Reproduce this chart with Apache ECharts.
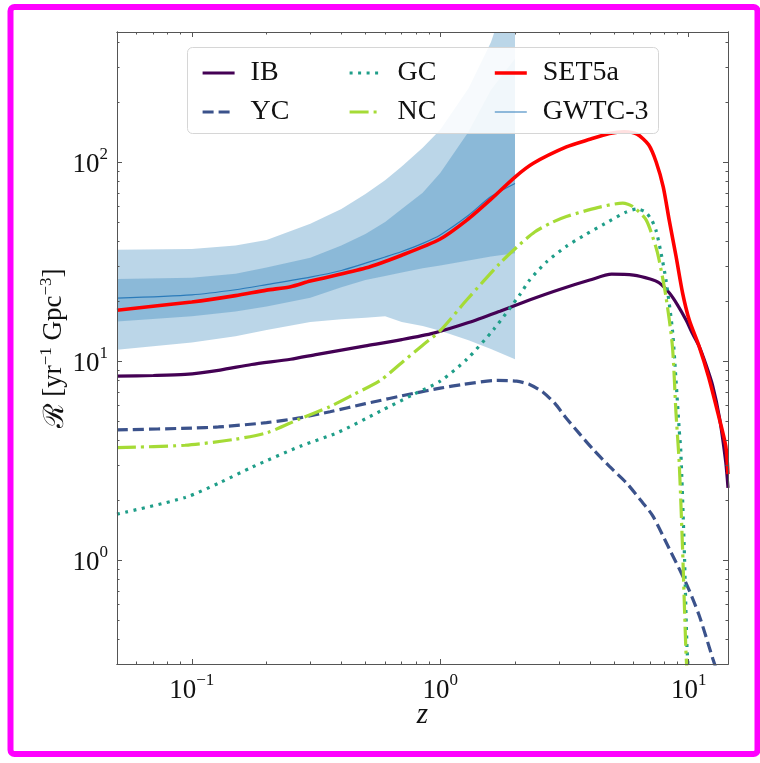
<!DOCTYPE html>
<html><head><meta charset="utf-8">
<script src="https://cdn.jsdelivr.net/npm/echarts@6/dist/echarts.min.js"></script>
<style>html,body{margin:0;padding:0;background:#fff}#c{width:760px;height:763px}</style>
</head><body><div id="c"></div>
<script>
// ---------------- data ----------------
const xMajorTicks = [0.1, 1, 10];
const xMinorTicks = [0.06, 0.07, 0.08, 0.09, 0.2, 0.3, 0.4, 0.5, 0.6, 0.7, 0.8, 0.9, 2, 3, 4, 5, 6, 7, 8, 9];
const yMajorTicks = [1, 10, 100];
const yMinorTicks = [0.3, 0.4, 0.5, 0.6, 0.7, 0.8, 0.9, 2, 3, 4, 5, 6, 7, 8, 9, 20, 30, 40, 50, 60, 70, 80, 90, 200, 300, 400];

const ibZ = [0.05, 0.07, 0.094, 0.13, 0.174, 0.25, 0.32, 0.5, 0.7, 0.94, 1.3, 1.74, 2.3, 3.0, 4.0, 4.9, 6.0, 7.0, 7.6, 8.35, 9.0, 9.75, 10.4, 11.0, 11.7, 12.5, 13.3, 14.1, 14.4];
const ibR = [8.4, 8.45, 8.56, 9.0, 9.6, 10.2, 10.8, 11.9, 12.8, 13.8, 15.6, 17.8, 20.3, 22.8, 25.5, 27.3, 27.0, 25.8, 24.7, 22.0, 19.2, 16.1, 13.6, 11.9, 9.7, 7.5, 5.2, 3.1, 2.3];

const ycZ = [0.05, 0.1, 0.128, 0.2, 0.275, 0.36, 0.5, 0.78, 1.0, 1.24, 1.69, 2.03, 2.3, 2.6, 2.9, 3.2, 3.64, 4.12, 4.8, 5.6, 6.4, 7.16, 8.35, 9.74, 11.0, 12.5, 13.2];
const ycR = [4.5, 4.6, 4.66, 4.9, 5.19, 5.56, 6.1, 6.87, 7.3, 7.63, 7.98, 7.92, 7.6, 6.95, 6.1, 5.2, 4.3, 3.6, 2.95, 2.45, 2.0, 1.67, 1.14, 0.77, 0.53, 0.32, 0.26];

const gcZ = [0.05, 0.094, 0.13, 0.174, 0.275, 0.387, 0.575, 0.78, 1.0, 1.28, 1.64, 2.09, 2.29, 2.68, 3.2, 3.76, 4.6, 5.6, 6.2, 6.7, 7.1, 7.4, 7.74, 8.1, 8.6, 8.89, 9.16, 9.3, 9.6, 9.85, 10.0];
const gcR = [1.7, 2.06, 2.45, 2.92, 3.74, 4.37, 5.6, 6.79, 7.92, 10.2, 14.4, 21.5, 25.5, 31.5, 37.5, 42.5, 49.0, 56.0, 58.0, 56.0, 51.0, 45.0, 34.9, 25.6, 14.4, 8.08, 4.54, 3.5, 1.14, 0.36, 0.27];

const ncZ = [0.05, 0.094, 0.149, 0.202, 0.27, 0.36, 0.45, 0.575, 0.7, 0.85, 1.0, 1.28, 1.74, 2.09, 2.4, 2.8, 3.22, 4.3, 5.43, 5.95, 6.74, 7.37, 7.6, 8.1, 8.6, 8.89, 9.16, 9.45, 9.74, 9.85];
const ncR = [3.67, 3.77, 4.04, 4.37, 5.1, 5.9, 6.8, 8.0, 9.8, 12.0, 14.2, 20.3, 31.0, 38.5, 44.5, 49.5, 53.2, 59.0, 62.1, 59.7, 51.2, 37.6, 32.3, 21.1, 11.9, 5.5, 3.09, 1.14, 0.36, 0.27];

const setZ = [0.05, 0.1, 0.15, 0.2, 0.25, 0.3, 0.5, 0.7, 1.0, 1.28, 1.59, 2.0, 2.37, 3.22, 4.0, 4.8, 5.5, 6.2, 6.9, 7.4, 7.9, 8.35, 8.9, 9.45, 10.05, 11.0, 12.0, 13.1, 14.1, 14.4];
const setR = [18.0, 19.8, 21.3, 22.7, 23.6, 25.2, 29.3, 34.0, 41.0, 51.0, 64.5, 84.0, 98.5, 119, 130, 139, 142, 138, 122, 100, 75, 51, 33.5, 22.0, 16.1, 11.9, 8.4, 5.5, 3.74, 2.7];

const bandZ = [0.05, 0.1, 0.15, 0.2, 0.3, 0.4, 0.5, 0.6, 0.7, 0.85, 1.0, 1.3, 1.6, 2.0];
const gwtcMedian = [20.7, 21.5, 22.8, 24.2, 26.4, 28.5, 31.0, 33.3, 35.5, 39.0, 43.0, 54.0, 67.0, 78.0];
const gwtc50Low = [15.8, 16.8, 17.7, 18.8, 20.8, 23.5, 25.5, 26.7, 27.8, 29.2, 30.2, 32.0, 33.5, 34.8];
const gwtc50High = [25.8, 26.2, 27.4, 29.5, 33.0, 38.0, 43.5, 50.0, 58.0, 70.0, 88.0, 142, 230, 330];
const gwtc90Low = [11.4, 12.4, 13.3, 14.3, 15.7, 16.2, 16.5, 16.8, 15.7, 15.0, 14.2, 12.7, 11.5, 10.2];
const gwtc90High = [36.2, 36.5, 38.0, 40.5, 49.0, 58.0, 69.0, 81.0, 95.0, 118, 145, 235, 400, 900];

// ---------------- chart ----------------
const FONT = '"Liberation Serif", "DejaVu Serif", serif';
const AX = '#555';
const xMin = 0.05, xMax = 14.4, yMin = 0.3, yMax = 450;

const pairs = (xs, ys) => xs.map((v, i) => [v, ys[i]]);

const supRich = {
  b: { fontSize: 27, fontFamily: FONT, color: '#111', lineHeight: 32, verticalAlign: 'bottom' },
  s: { fontSize: 17, fontFamily: FONT, color: '#111', lineHeight: 18, verticalAlign: 'top' }
};
function powLabel(v) {
  const e = Math.round(Math.log10(v));
  return '{b|10}{s|' + (e < 0 ? '\u2212' + (-e) : e) + '}';
}

function mkAxis(kind, pos, ticks, len, withLabels, extra) {
  const isX = kind === 'x';
  const ax = {
    type: 'log', logBase: 10,
    min: isX ? xMin : yMin, max: isX ? xMax : yMax,
    position: pos, z: 6,
    axisLine: { show: true, onZero: false, lineStyle: { color: AX, width: 1 } },
    axisTick: { show: true, inside: true, length: len, customValues: ticks, lineStyle: { color: AX, width: 1 } },
    axisLabel: withLabels ? {
      show: true, customValues: ticks, margin: isX ? 8 : 9,
      formatter: powLabel, rich: supRich
    } : { show: false },
    splitLine: { show: false }, minorTick: { show: false }, minorSplitLine: { show: false }
  };
  return Object.assign(ax, extra || {});
}

function band(lo, hi) {
  return {
    type: 'custom', coordinateSystem: 'cartesian2d', xAxisIndex: 0, yAxisIndex: 0,
    clip: true, silent: true, z: 1,
    data: [[1, 10]], encode: { x: 0, y: 1 },
    renderItem: function (params, api) {
      const pts = [];
      for (let i = 0; i < bandZ.length; i++) pts.push(api.coord([bandZ[i], hi[i]]));
      for (let i = bandZ.length - 1; i >= 0; i--) pts.push(api.coord([bandZ[i], lo[i]]));
      return { type: 'polygon', shape: { points: pts }, style: { fill: 'rgba(31,119,180,0.3)' } };
    }
  };
}

function line(name, xs, ys, color, width, dash, z) {
  return {
    type: 'line', name: name, xAxisIndex: 0, yAxisIndex: 0,
    data: pairs(xs, ys), symbol: 'none', showSymbol: false, smooth: 0.25, clip: true,
    z: z || 2, silent: true,
    lineStyle: { color: color, width: width, type: dash || 'solid', cap: 'butt' },
    itemStyle: { color: color }
  };
}

const legendCommon = {
  orient: 'vertical', top: 53, itemWidth: 32, itemHeight: 12, itemGap: 9,
  selectedMode: false, z: 8,
  lineStyle: { width: 'inherit' },
  itemStyle: { color: 'rgba(0,0,0,0)', borderColor: 'rgba(0,0,0,0)', borderWidth: 0, opacity: 0 },
  textStyle: { fontSize: 28, fontFamily: FONT, color: '#111', lineHeight: 30, padding: [0, 0, 0, 11] }
};

const chart = echarts.init(document.getElementById('c'), null, { renderer: 'canvas' });
chart.setOption({
  animation: false,
  backgroundColor: '#fff',
  grid: { left: 117, top: 32, right: 32, bottom: 99, containLabel: false, outerBoundsMode: 'none' },
  xAxis: [
    mkAxis('x', 'bottom', xMajorTicks, 5, true, {
      name: 'z', nameLocation: 'middle', nameGap: 37, nameMoveOverlap: false,
      nameTextStyle: { fontSize: 29, fontFamily: FONT, fontStyle: 'italic', color: '#111' }
    }),
    mkAxis('x', 'bottom', xMinorTicks, 2.5, false),
    mkAxis('x', 'top', xMajorTicks, 5, false),
    mkAxis('x', 'top', xMinorTicks, 2.5, false)
  ],
  yAxis: [
    mkAxis('y', 'left', yMajorTicks, 5, true, {
      name: '{r|\u211B} [yr{s|\u22121} Gpc{s|\u22123}]', nameLocation: 'middle', nameGap: 47, nameRotate: 90,
      nameMoveOverlap: false,
      nameTextStyle: {
        fontSize: 27, fontFamily: FONT, color: '#111', lineHeight: 32,
        rich: {
          r: { fontSize: 28, fontFamily: FONT, color: '#111', lineHeight: 32, verticalAlign: 'bottom' },
          s: { fontSize: 17, fontFamily: FONT, color: '#111', lineHeight: 18, verticalAlign: 'top' }
        }
      }
    }),
    mkAxis('y', 'left', yMinorTicks, 2.5, false),
    mkAxis('y', 'right', yMajorTicks, 5, false),
    mkAxis('y', 'right', yMinorTicks, 2.5, false)
  ],
  legend: [
    Object.assign({}, legendCommon, { left: 196, data: ['IB', 'YC'] }),
    Object.assign({}, legendCommon, { left: 343, data: ['GC', 'NC'] }),
    Object.assign({}, legendCommon, { left: 488, data: ['SET5a', 'GWTC-3'] })
  ],
  graphic: [
    { type: 'rect', z: 7, silent: true, shape: { x: 187.5, y: 47.5, width: 471, height: 86, r: 5 },
      style: { fill: 'rgba(255,255,255,0.88)', stroke: '#d6d6d6', lineWidth: 1 } },
    { type: 'rect', z: 20, silent: true, shape: { x: 10.5, y: 7, width: 747, height: 747, r: 4 },
      style: { fill: 'none', stroke: '#ff00ff', lineWidth: 6 } }
  ],
  series: [
    band(gwtc90Low, gwtc90High),
    band(gwtc50Low, gwtc50High),
    line('IB', ibZ, ibR, '#440154', 3.2),
    line('YC', ycZ, ycR, '#3b528b', 3.2, [11, 5]),
    line('GC', gcZ, gcR, '#1f9e89', 3.2, [3, 5.5]),
    line('NC', ncZ, ncR, '#a5db36', 3.2, [19, 5, 3, 5]),
    line('GWTC-3', bandZ, gwtcMedian, '#2b7bba', 1.2, 'solid', 3),
    line('SET5a', setZ, setR, '#ff0000', 3.6, 'solid', 4)
  ]
});
</script>
</body></html>
